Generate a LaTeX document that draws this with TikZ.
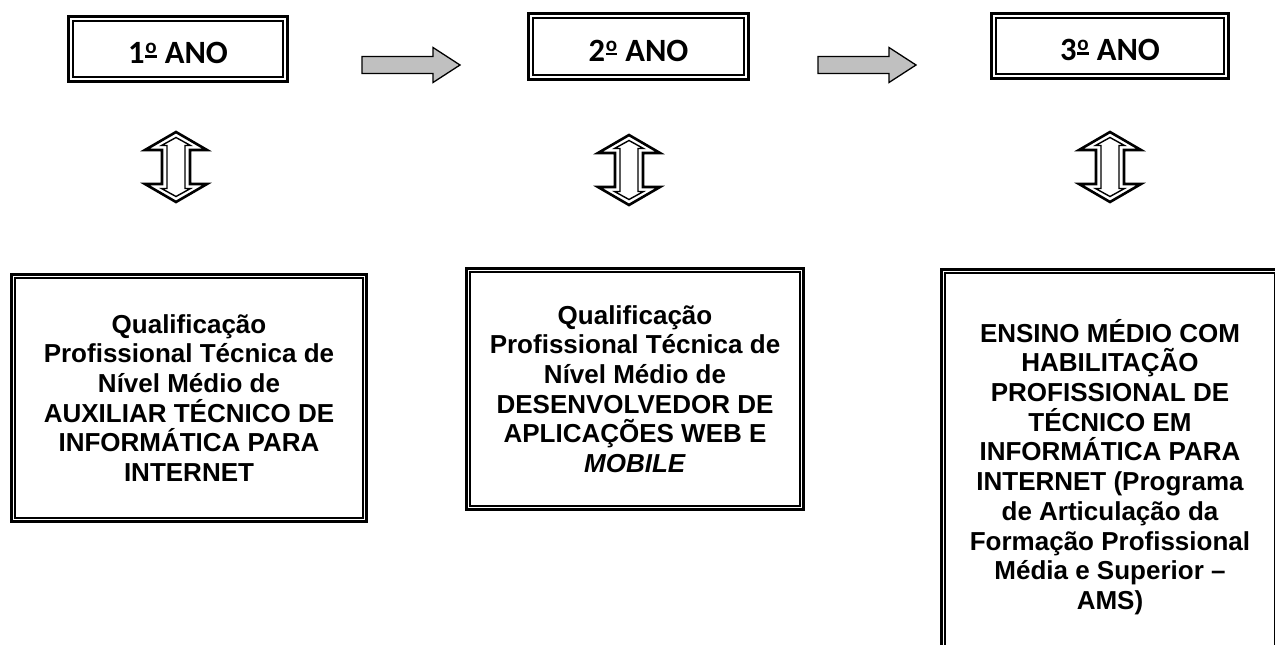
\documentclass[tikz,border=0pt]{standalone}
\usepackage{fontspec}
\setmainfont{Liberation Sans}
\newfontfamily\carlito{Carlito}
\definecolor{arrowgray}{HTML}{C0C0C0}
\newcommand\ordu{\kern0.8pt\raisebox{6pt}{\setbox0\hbox{\fontsize{21}{21}\selectfont o}\vbox{\copy0\kern1.2pt\hrule height 2.2pt width \wd0}}\kern0.8pt}
\begin{document}
\begin{tikzpicture}[x=1pt,y=-1pt,
  yearbox/.style={draw=black, line width=2.8pt, inner sep=0pt},
  yeartext/.style={font={\carlito\bfseries\fontsize{32.5}{36}\selectfont}, anchor=base, inner sep=0pt},
  infobox/.style={draw=black, line width=3pt, inner sep=0pt, align=center,
    font={\bfseries\fontsize{26}{29.7}\selectfont}},
  innerline/.style={draw=black, line width=2pt},
  blockarrow/.style={draw=black, line width=1.3pt, fill=arrowgray, line join=miter},
  pics/updown/.style={code={
    \draw[line width=2.6pt, line join=miter]
      (0,-35) -- (31,-17) -- (14,-17) -- (14,17) -- (31,17) -- (0,35)
      -- (-31,17) -- (-14,17) -- (-14,-17) -- (-31,-17) -- cycle;
    \draw[line width=1.4pt, line join=miter]
      (0,-29.5) -- (14.5,-21.5) -- (9,-21.5) -- (9,21.5) -- (14.5,21.5) -- (0,29.5)
      -- (-14.5,21.5) -- (-9,21.5) -- (-9,-21.5) -- (-14.5,-21.5) -- cycle;
  }}
]
\useasboundingbox (0,0) rectangle (1275,645);
\clip (0,0) rectangle (1275,645);

% year boxes
\node[yearbox, minimum width=219, minimum height=65] (y1) at (178,49) {};
\node[yearbox, minimum width=220, minimum height=66] (y2) at (638.5,46.5) {};
\node[yearbox, minimum width=237, minimum height=65] (y3) at (1110,46) {};
\foreach \n in {y1,y2,y3}{
  \draw[innerline] ([shift={(5.5,5.5)}]\n.north west) rectangle ([shift={(-5.5,-5.5)}]\n.south east);
}
\node[yeartext] (t1) at (178,63.5) {1\ordu{} ANO};
\node[yeartext] (t2) at (638.5,61) {2\ordu{} ANO};
\node[yeartext] (t3) at (1110,60.5) {3\ordu{} ANO};

% block arrows between year boxes
\coordinate (a1) at (362,64.5);
\coordinate (a2) at (818,64.5);
\draw[blockarrow] (a1) ++(0,-8) -- ++(71,0) -- ++(0,-9) -- ++(27,17.5) -- ++(-27,17.5) -- ++(0,-9) -- ++(-71,0) -- cycle;
\draw[blockarrow] (a2) ++(0,-8) -- ++(71,0) -- ++(0,-9) -- ++(27,17.5) -- ++(-27,17.5) -- ++(0,-9) -- ++(-71,0) -- cycle;

% up-down arrows
\pic at (176,167) {updown};
\pic at (629,170) {updown};
\pic at (1110,167) {updown};

% description boxes
\node[infobox, minimum width=355, minimum height=247] (b1) at (189,398)
  {Qualificação\\Profissional Técnica de\\Nível Médio de\\AUXILIAR TÉCNICO DE\\INFORMÁTICA PARA\\INTERNET};
\node[infobox, minimum width=337, minimum height=241] (b2) at (635,389)
  {Qualificação\\Profissional Técnica de\\Nível Médio de\\DESENVOLVEDOR DE\\APLICAÇÕES WEB E\\\textit{MOBILE}};
\node[infobox, minimum width=337, minimum height=395] (b3) at (1110,467)
  {ENSINO MÉDIO COM\\HABILITAÇÃO\\PROFISSIONAL DE\\TÉCNICO EM\\INFORMÁTICA PARA\\INTERNET (Programa\\de Articulação da\\Formação Profissional\\Média e Superior –\\AMS)};
\foreach \n in {b1,b2,b3}{
  \draw[innerline] ([shift={(5,5)}]\n.north west) rectangle ([shift={(-5,-5)}]\n.south east);
}
\end{tikzpicture}
\end{document}
